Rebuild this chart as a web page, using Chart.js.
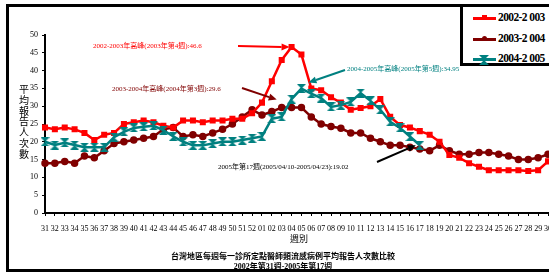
<!DOCTYPE html>
<html>
<head>
<meta charset="utf-8">
<script src="https://cdn.jsdelivr.net/npm/chart.js@4.4.0/dist/chart.umd.min.js"></script>
<style>
body{margin:0;width:549px;height:273px;overflow:hidden;background:#fff;position:relative;font-family:"Liberation Serif","Noto Sans CJK TC",serif}
#wrap{position:absolute;left:0;top:0;width:560px;height:273px}
#frame{position:absolute;left:6px;top:4px;width:600px;height:262px;border:3px solid #000;pointer-events:none}
#legend{position:absolute;left:460px;top:4px;width:120px;height:56px;border:3px solid #000;background:#fff}
.row{position:absolute;left:10px;height:12px}
.row .ln{position:absolute;left:0;top:5px;width:23px;height:3px}
.row .tx{position:absolute;left:25px;top:-1px;font-size:11.5px;font-weight:bold;letter-spacing:-0.6px;white-space:nowrap;line-height:12px}
.note{position:absolute;font-size:7px;white-space:nowrap;line-height:9px}
#ytitle{position:absolute;left:19px;top:84px;width:11px;font-size:10px;line-height:10.8px;font-family:"Noto Sans CJK TC",sans-serif;word-break:break-all}
#xtitle{position:absolute;left:290px;top:232px;font-size:9px;font-family:"Noto Sans CJK TC",sans-serif}
.title{position:absolute;left:0;width:566px;text-align:center;font-weight:bold;white-space:nowrap}
</style>
</head>
<body>
<div id="wrap"><canvas id="myChart" width="560" height="273"></canvas></div>
<div id="ytitle">平均報告人次數</div>
<div id="xtitle">週別</div>
<div class="title" style="top:251px;font-size:8px;line-height:9px;font-family:'Noto Sans CJK TC',sans-serif">台灣地區每週每一診所定點醫師類流感病例平均報告人次數比較</div>
<div class="title" style="top:262px;font-size:8px;line-height:9px">2002年第31週-2005年第17週</div>
<div class="note" style="left:93px;top:42px;color:#ff0000">2002-2003年高峰(2003年第4週):46.6</div>
<div class="note" style="left:112px;top:85px;color:#800000">2003-2004年高峰(2004年第3週):29.6</div>
<div class="note" style="left:347px;top:65px;color:#008080">2004-2005年高峰(2005年第5週):34.95</div>
<div class="note" style="left:218px;top:163px;color:#000">2005年第17週(2005/04/10-2005/04/23):19.02</div>
<div id="legend"></div>
<div id="frame"></div>
<script>
// weeks 2002/31 .. 2003/30 etc
var weeks = ['31','32','33','34','35','36','37','38','39','40','41','42','43','44','45','46','47','48','49','50','51','52',
  '01','02','03','04','05','06','07','08','09','10','11','12','13','14','15','16','17','18','19','20','21','22','23','24','25','26','27','28','29','30'];

var names = ['2002-2 003', '2003-2 004', '2004-2 005'];
var colors = ['#ff0000', '#800000', '#008080'];

var flu0203 = [24, 23.5, 24, 23.5, 22.5, 20.5, 22, 22.5, 25, 25.5, 26, 25.5, 24.5, 24, 26, 26, 25.5, 26, 26, 26.5, 26.5, 28,
  31, 37, 43, 46.6, 44.5, 35, 34.5, 32.5, 31, 29, 29.5, 30, 32, 27, 24.7, 24, 23, 22, 20, 16.3, 15.5, 14, 13, 12, 12, 12, 12, 11.8, 12, 14.5];
var flu0304 = [14, 14, 14.5, 14, 16, 15.5, 17.5, 19.5, 20, 20.5, 21, 21.5, 23.5, 24, 21.5, 22, 21.5, 22.5, 23.5, 25, 27, 29,
  27.5, 28.5, 29.6, 29.6, 29.6, 27, 25, 24.3, 23.8, 22.5, 22.5, 21, 20, 19, 19, 18.5, 18, 17.5, 19, 17.5, 16.5, 16.5, 17, 17, 16.5, 16, 15, 15, 15.5, 16.5];
var flu0405 = [20, 19.1, 19.7, 19.1, 18.5, 18.5, 18.5, 21.3, 22.8, 23.9, 24.2, 24.5, 23.3, 21.5, 20, 19, 19, 19.5, 20, 20, 20.5, 21,
  21.5, 26.5, 27, 32, 34.95, 33.5, 32.3, 29.8, 30.3, 31.2, 33.7, 31.5, 29, 25.6, 23.9, 21.5, 19.02];

// hourglass marker for 2004-2005
function hourglass(size, col) {
  var c = document.createElement('canvas');
  c.width = size; c.height = size;
  var g = c.getContext('2d');
  g.fillStyle = col;
  g.beginPath();
  g.moveTo(0, 0); g.lineTo(size, 0); g.lineTo(size / 2, size / 2); g.closePath();
  g.moveTo(0, size); g.lineTo(size, size); g.lineTo(size / 2, size / 2); g.closePath();
  g.fill();
  return c;
}
var hg = hourglass(9, colors[2]);

// legend (html)
var leg = document.getElementById('legend');
var rowTops = [5, 26, 46];
for (var i = 0; i < 3; i++) {
  var r = document.createElement('div');
  r.className = 'row';
  r.style.top = rowTops[i] + 'px';
  var mk = '';
  if (i == 0) mk = '<div style="position:absolute;left:9px;top:3px;width:5px;height:5px;background:' + colors[0] + '"></div>';
  if (i == 1) mk = '<div style="position:absolute;left:9px;top:3px;width:5px;height:5px;border-radius:50%;background:' + colors[1] + '"></div>';
  if (i == 2) mk = '<svg style="position:absolute;left:6px;top:2px" width="10" height="10"><path d="M0 0H10L5 5ZM0 10H10L5 5Z" fill="' + colors[2] + '"/></svg>';
  r.innerHTML = '<div class="ln" style="background:' + colors[i] + '"></div>' + mk + '<div class="tx">' + names[i] + '</div>';
  leg.appendChild(r);
}

// arrows pointing at the marked weeks
var arrows = [
  {ds: 0, idx: 25, color: '#ff0000', from: [238, 46], off: [-2, 0]},
  {ds: 1, idx: 24, color: '#800000', from: [242, 88], off: [-5, -8]},
  {ds: 2, idx: 26, color: '#008080', from: [345, 70], off: [7, -6]},
  {ds: 2, idx: 38, color: '#000000', from: [377, 162], off: [-4, 0]}
];

var arrowPlugin = {
  id: 'arrows',
  afterDatasetsDraw: function(chart) {
    var ctx = chart.ctx;
    arrows.forEach(function(a) {
      var pt = chart.getDatasetMeta(a.ds).data[a.idx];
      var tx = pt.x + a.off[0], ty = pt.y + a.off[1];
      var fx = a.from[0], fy = a.from[1];
      var ang = Math.atan2(ty - fy, tx - fx);
      var hl = 8, hw = 3.5;
      ctx.save();
      ctx.strokeStyle = a.color;
      ctx.fillStyle = a.color;
      ctx.lineWidth = 2;
      ctx.beginPath();
      ctx.moveTo(fx, fy);
      ctx.lineTo(tx - hl * Math.cos(ang), ty - hl * Math.sin(ang));
      ctx.stroke();
      ctx.beginPath();
      ctx.moveTo(tx, ty);
      ctx.lineTo(tx - hl * Math.cos(ang) + hw * Math.sin(ang), ty - hl * Math.sin(ang) - hw * Math.cos(ang));
      ctx.lineTo(tx - hl * Math.cos(ang) - hw * Math.sin(ang), ty - hl * Math.sin(ang) + hw * Math.cos(ang));
      ctx.closePath();
      ctx.fill();
      ctx.restore();
    });
  }
};

var tickFont = {family: 'Liberation Serif', size: 8};

var chart = new Chart('myChart', {
  type: 'line',
  data: {
    labels: weeks,
    datasets: [
      {label: names[0], data: flu0203, borderColor: colors[0], backgroundColor: colors[0], borderWidth: 2.5,
        pointStyle: 'rect', pointRadius: 2.5, lineTension: 0, order: 1},
      {label: names[1], data: flu0304, borderColor: colors[1], backgroundColor: colors[1], borderWidth: 2.5,
        pointStyle: 'circle', pointRadius: 2.5, lineTension: 0, order: 2},
      {label: names[2], data: flu0405, borderColor: colors[2], backgroundColor: colors[2], borderWidth: 2.5,
        pointStyle: hg, lineTension: 0, order: 0}
    ]
  },
  options: {
    responsive: false,
    animation: false,
    devicePixelRatio: 1,
    layout: {padding: {left: 0, top: 35, right: 9, bottom: 35}},
    plugins: {legend: {display: false}, tooltip: {enabled: false}},
    scales: {
      x: {
        afterFit: function(s) { s.height = 25; },
        grid: {drawOnChartArea: false, tickLength: 3, color: '#000'},
        border: {color: '#000', width: 2},
        ticks: {font: tickFont, color: '#000', autoSkip: false, maxRotation: 0, minRotation: 0, padding: 8}
      },
      y: {
        min: 0, max: 50,
        afterFit: function(s) { s.width = 45; },
        grid: {drawOnChartArea: false, tickLength: 3, color: '#000'},
        border: {color: '#000', width: 2},
        ticks: {font: tickFont, color: '#000', stepSize: 5, padding: 4}
      }
    }
  },
  plugins: [arrowPlugin]
});
</script>
</body>
</html>
